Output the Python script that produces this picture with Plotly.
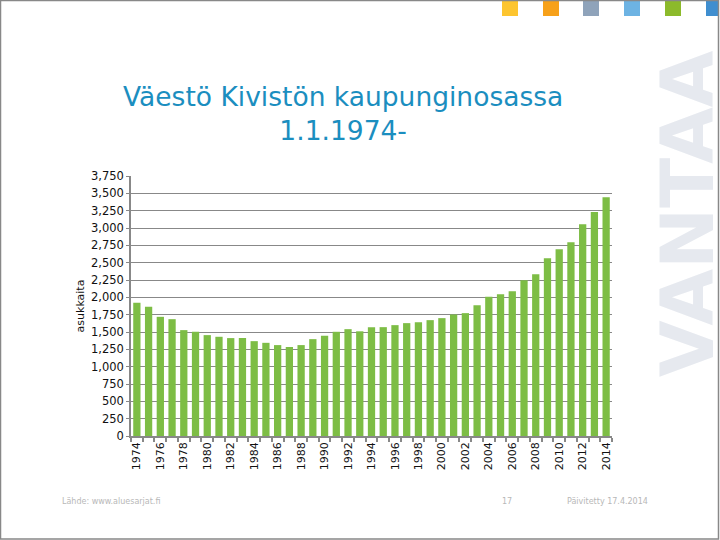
import plotly.graph_objects as go

years = list(range(1974, 2015))
population = [1921, 1863, 1719, 1685, 1527, 1503, 1455, 1431, 1412, 1412,
              1368, 1344, 1311, 1282, 1311, 1397, 1445, 1503, 1541, 1510,
              1570, 1570, 1599, 1628, 1642, 1671, 1700, 1753, 1772, 1887,
              2007, 2045, 2089, 2247, 2334, 2564, 2694, 2795, 3054, 3231, 3443]
y_ticks = list(range(0, 3751, 250))
x_tick_years = list(range(1974, 2015, 2))
square_colors = ["#FDC52F", "#F7A11A", "#8FA3BA", "#6DB3E3", "#8CBA2B", "#3F8ECF"]

W, H = 720, 540
L, R, T, B = 131, 612, 176, 436


def px(x):
    return (x - L) / (R - L)


def py(y):
    return (B - y) / (B - T)


fig = go.Figure()
fig.add_trace(go.Bar(x=years, y=population, marker_color="#7DBD45",
                     marker_line_width=0, width=0.62))

font_main = "DejaVu Sans"
fig.update_layout(
    width=W, height=H,
    margin=dict(l=L, r=W - R, t=T, b=H - B, pad=0),
    paper_bgcolor="white", plot_bgcolor="white",
    showlegend=False,
    font=dict(family=font_main, color="#222222"),
)
fig.update_xaxes(
    range=[1973.5, 2014.5], tickmode="array", tickvals=x_tick_years,
    ticktext=[str(y) for y in x_tick_years], tickangle=-90,
    ticks="", tickfont=dict(size=11, color="#111111"),
    showline=True, linecolor="#888888", linewidth=1.5, showgrid=False,
    zeroline=False,
    minor=dict(tick0=1973.5, dtick=1, ticks="outside", ticklen=4,
               tickcolor="#888888", tickwidth=1.5, showgrid=False),
)
fig.update_yaxes(
    range=[0, 3750], tickmode="array", tickvals=y_ticks,
    ticktext=[f"{v:,}" for v in y_ticks], tickfont=dict(size=11.5, color="#111111"),
    showgrid=True, gridcolor="#888888", gridwidth=1.3,
    showline=True, linecolor="#888888", linewidth=1.5,
    ticks="outside", ticklen=3, tickcolor="#888888", zeroline=False,
    title=dict(text="asukkaita", font=dict(size=11, color="#111111"), standoff=4),
)

shapes = []
# page frame
shapes.append(dict(type="rect", xref="paper", yref="paper",
                   x0=px(0.5), x1=px(718.5), y0=py(0.5), y1=py(539),
                   line=dict(color="#888888", width=1.5)))
# colored squares at top
sq_x = [502, 543, 583, 624, 665, 706]
for x0, c in zip(sq_x, square_colors):
    shapes.append(dict(type="rect", xref="paper", yref="paper",
                       x0=px(x0), x1=px(min(x0 + 16, 718)), y0=py(1), y1=py(16),
                       line=dict(width=0), fillcolor=c, layer="below"))
fig.update_layout(shapes=shapes)

ann = []
ann.append(dict(text="Väestö Kivistön kaupunginosassa<br>1.1.1974-",
                xref="paper", yref="paper", x=px(343), y=py(113),
                xanchor="center", yanchor="middle", showarrow=False,
                font=dict(family=font_main, size=26.5, color="#1B8EBF")))
ann.append(dict(text="<b>VANTAA</b>", textangle=-90, xref="paper", yref="paper",
                x=px(687), y=py(214), xanchor="center", yanchor="middle",
                showarrow=False,
                font=dict(family=font_main, size=73, color="#E6E9EF")))
ann.append(dict(text="Lähde: www.aluesarjat.fi", xref="paper", yref="paper",
                x=px(60), y=py(501), xanchor="left", yanchor="middle",
                showarrow=False, font=dict(size=8, color="#B8B8B8")))
ann.append(dict(text="17", xref="paper", yref="paper",
                x=px(507), y=py(501), xanchor="center", yanchor="middle",
                showarrow=False, font=dict(size=8, color="#B8B8B8")))
ann.append(dict(text="Päivitetty 17.4.2014", xref="paper", yref="paper",
                x=px(565), y=py(501), xanchor="left", yanchor="middle",
                showarrow=False, font=dict(size=8, color="#B8B8B8")))
fig.update_layout(annotations=ann)

fig.write_html("out.html", config={"displayModeBar": False},
               post_script="document.body.style.margin='0';document.body.style.overflow='hidden';")
